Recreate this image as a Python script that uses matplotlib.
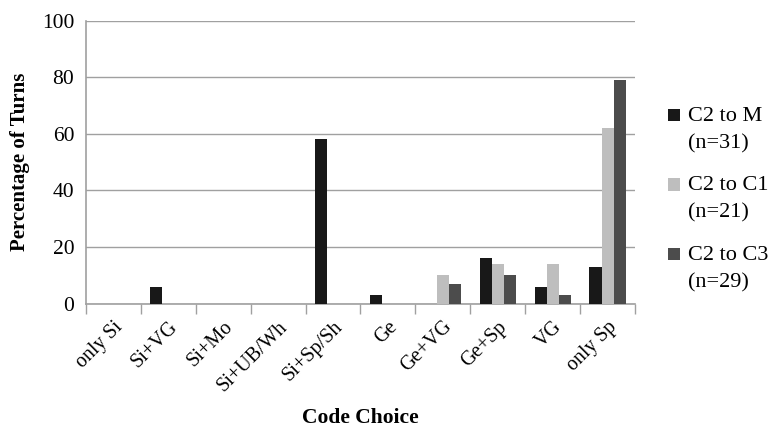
import numpy as np
import matplotlib.pyplot as plt
from matplotlib.patches import Rectangle

# Code choice categories and percentage of turns per transition
categories = ['only Si', 'Si+VG', 'Si+Mo', 'Si+UB/Wh', 'Si+Sp/Sh', 'Ge',
              'Ge+VG', 'Ge+Sp', 'VG', 'only Sp']
c2_to_m = [0, 6, 0, 0, 58, 3, 0, 16, 6, 13]
c2_to_c1 = [0, 0, 0, 0, 0, 0, 10, 14, 14, 62]
c2_to_c3 = [0, 0, 0, 0, 0, 0, 7, 10, 3, 79]
series_names = ['C2 to M', 'C2 to C1', 'C2 to C3']
series_n = ['(n=31)', '(n=21)', '(n=29)']
colors = ['#181818', '#bebebe', '#4c4c4c']
yticks = [0, 20, 40, 60, 80, 100]

plt.rcParams['font.family'] = 'Liberation Serif'

W, H = 776, 429
fig = plt.figure(figsize=(W / 100, H / 100), dpi=100)
ax = fig.add_axes([0.1108, 0.2925, 0.7075, 0.6595])

x = np.arange(len(categories))
w = 0.22
for i, (vals, c) in enumerate(zip([c2_to_m, c2_to_c1, c2_to_c3], colors)):
    ax.bar(x + (i - 1) * w, vals, width=w, color=c, zorder=3)

ax.set_xlim(-0.5, len(categories) - 0.5)
ax.set_ylim(0, 100)
ax.set_yticks(yticks)
ax.yaxis.grid(True, color='#a0a0a0', linewidth=1.0, zorder=0)
ax.tick_params(axis='y', length=0, labelsize=15.5, pad=8.5)

# boundary ticks on x, labels at category centres
ax.set_xticks(np.arange(-0.5, len(categories)), minor=False)
ax.set_xticklabels([])
ax.set_xticks(x, minor=True)
ax.set_xticklabels(categories, minor=True, rotation=45, ha='right',
                   va='top', rotation_mode='anchor', fontsize=14.5)
ax.tick_params(axis='x', which='major', length=7, color='#a0a0a0', width=1)
ax.tick_params(axis='x', which='minor', length=0, pad=10)

for s in ['top', 'right']:
    ax.spines[s].set_visible(False)
for s in ['left', 'bottom']:
    ax.spines[s].set_color('#a0a0a0')
    ax.spines[s].set_linewidth(1.2)

ax.set_ylabel('Percentage of Turns', fontsize=15, fontweight='bold')
ax.yaxis.set_label_coords(-0.102, 0.5)
fig.text(360 / W, 1 - 423 / H, 'Code Choice', fontsize=15.5, fontweight='bold',
         ha='center', va='baseline')

# legend: square marker beside the first line of each two-line entry
for i, (name, n, c) in enumerate(zip(series_names, series_n, colors)):
    base = 121 + 69.5 * i
    fig.patches.append(Rectangle((668 / W, 1 - base / H), 12 / W, 12 / H,
                                 transform=fig.transFigure, facecolor=c,
                                 edgecolor='none'))
    fig.text(688 / W, 1 - base / H, name, fontsize=16, va='baseline')
    fig.text(688 / W, 1 - (base + 27) / H, n, fontsize=16, va='baseline')

fig.savefig('out.png', dpi=100)
